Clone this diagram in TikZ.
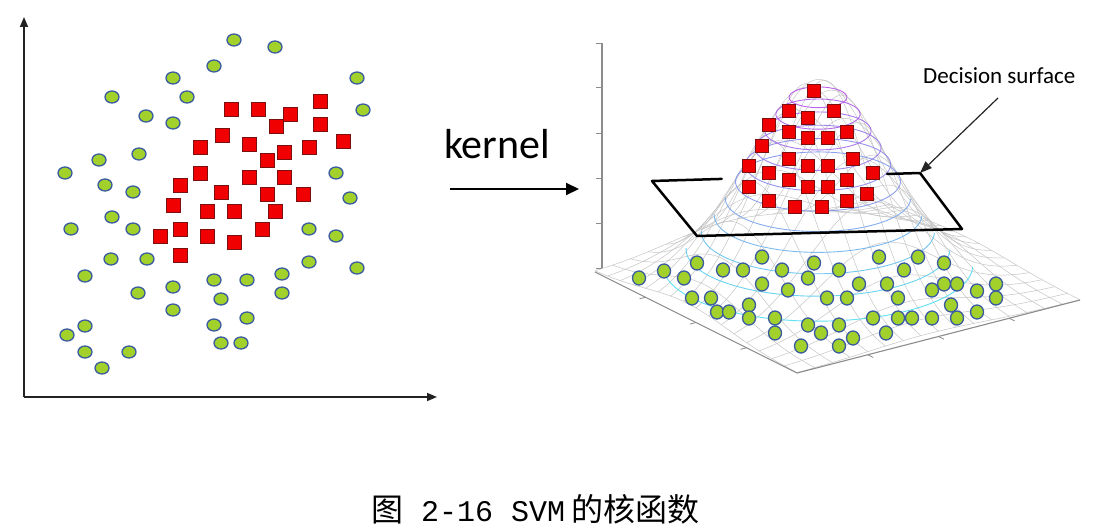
\documentclass[tikz,border=0pt]{standalone}
\usepackage{fontspec}
\newfontfamily\carlito{Carlito}
\newfontfamily\cjkfont{Noto Sans CJK SC}
\newfontfamily\monofont{Liberation Mono}
\usetikzlibrary{arrows.meta,shapes.geometric,calc}
\definecolor{dotgreen}{HTML}{A2D12B}
\definecolor{dotblue}{HTML}{3A5BA0}
\definecolor{sqred}{HTML}{F00000}
\definecolor{sqedge}{HTML}{7A1010}
\definecolor{meshgray}{HTML}{C6C6C6}
\definecolor{axgray}{HTML}{8C8C8C}
\definecolor{axdark}{HTML}{222222}
\definecolor{ringlo}{HTML}{4FDDF2}
\definecolor{ringhi}{HTML}{B850E8}
\begin{document}
\begin{tikzpicture}[x=1pt,y=-1pt,
  gdotL/.style={ellipse,draw=dotblue,line width=1.3pt,fill=dotgreen,minimum width=14pt,minimum height=12pt,inner sep=0pt},
  gdotR/.style={ellipse,draw=dotblue,line width=1.3pt,fill=dotgreen,minimum width=13pt,minimum height=14pt,inner sep=0pt},
  rsq/.style={rectangle,draw=sqedge,line width=0.6pt,fill=sqred,minimum size=13pt,inner sep=0pt},
  axisL/.style={draw=axdark,line width=1.5pt,-{Triangle[length=10pt,width=8pt]}},
  kernarrow/.style={draw=black,line width=2pt,-{Triangle[length=13pt,width=12pt]}},
  dsarrow/.style={draw=black!85,line width=1.2pt,-{Triangle[length=12pt,width=9pt]}},
  meshline/.style={draw=meshgray,line width=0.5pt},
  ringline/.style={line width=0.9pt,opacity=0.9},
  planeline/.style={draw=black,line width=2.5pt,line cap=round,line join=round},
  axR/.style={draw=axgray,line width=1.1pt},
  tickR/.style={draw=axgray,line width=0.8pt}
]
\useasboundingbox (0,0) rectangle (1107,532);
\fill[white] (0,0) rectangle (1107,532);

% ---------- left scatter plot ----------
\coordinate (O) at (24,397);
\coordinate (Ytop) at (24,17);
\coordinate (Xend) at (437,397);
\draw[axisL] (O) -- (Ytop);
\draw[axisL] (O) -- (Xend);

\foreach \px/\py [count=\n] in {234/40, 275/47, 214/66, 173/78, 357/78, 112/97, 187/97, 363/110, 146/116, 173/123, 139/154, 99/160, 65/173, 336/173, 105/185, 133/192, 350/198, 112/217, 71/229, 133/229, 309/229, 336/236, 111/259, 147/259, 309/262, 357/268, 85/276, 282/274, 214/280, 247/280, 173/287, 138/293, 282/293, 221/299, 173/310, 85/326, 214/325, 247/318, 67/335, 85/352, 129/352, 221/343, 241/343, 102/368}
  \node[gdotL] (gl\n) at (\px,\py) {};

\foreach \px/\py [count=\n] in {231/109, 258/109, 290/114, 320/101, 276/126, 320/124, 222/135, 200/147, 249/144, 284/152, 309/147, 343/141, 267/160, 200/173, 180/185, 249/177, 284/177, 221/192, 267/194, 303/194, 173/205, 207/211, 234/211, 275/211, 180/229, 262/229, 160/236, 207/236, 234/242, 180/255}
  \node[rsq,minimum size=14pt] (sl\n) at (\px,\py) {};

% ---------- kernel arrow ----------
\node[anchor=base west,inner sep=0pt] (kern) at (444,158) {\carlito\fontsize{42}{50}\selectfont kernel};
\coordinate (kA) at (450,189);
\coordinate (kB) at (579,189);
\draw[kernarrow] (kA) -- (kB);

% ---------- right 3D plot ----------
% mesh of the gaussian surface
\foreach \i in {0,...,16} {
  \draw[meshline] plot[domain=0:1,samples=41,smooth]
   ({797-202*\i/16+283*\x},
    {373-101*\i/16-73*\x-203*exp(-((\i/16-0.546)*(\i/16-0.546)+(\x-0.464)*(\x-0.464))/0.0824)});
  \draw[meshline] plot[domain=0:1,samples=41,smooth]
   ({797-202*\x+283*\i/16},
    {373-101*\x-73*\i/16-203*exp(-((\x-0.546)*(\x-0.546)+(\i/16-0.464)*(\i/16-0.464))/0.0824)});
}
% contour rings
\foreach \k in {0,...,10} {
  \pgfmathsetmacro\lev{0.09+0.083*\k}
  \pgfmathsetmacro\rad{0.287*sqrt(-ln(\lev))}
  \pgfmathsetmacro\cen{284-203*\lev}
  \pgfmathtruncatemacro\pc{10*\k}
  \draw[ringline,color=ringhi!\pc!ringlo] plot[domain=127:307,samples=40,smooth]
   ({818+\rad*(-202*cos(\x)+283*sin(\x))},{\cen+\rad*(-101*cos(\x)-73*sin(\x))});
  \ifnum\k>4
  \draw[ringline,color=ringhi!\pc!ringlo] plot[domain=-53:127,samples=40,smooth]
   ({818+\rad*(-202*cos(\x)+283*sin(\x))},{\cen+\rad*(-101*cos(\x)-73*sin(\x))});
  \fi
}
% axes of the 3D box
\coordinate (zTop) at (602,43);
\coordinate (zBot) at (602,268);
\coordinate (fL) at (595,272);
\coordinate (fF) at (797,373);
\coordinate (fR) at (1080,300);
\draw[axR] (zTop) -- (zBot);
\foreach \ty in {43,87,133,178,223,268} \draw[tickR] (602,\ty) -- ++(-6,0);
\draw[axR] (fL) -- (fF) -- (fR);
\foreach \f in {0.25,0.5,0.75} {
  \draw[tickR] ($(fL)!\f!(fF)$) -- ++(-6,1.6);
  \draw[tickR] ($(fF)!\f!(fR)$) -- ++(5.4,2.7);
}

% decision plane
\coordinate (P1) at (652,181);
\coordinate (P2) at (920,173);
\coordinate (P3) at (962,229);
\coordinate (P4) at (697,236);
\draw[planeline] (P2) -- (P3) -- (P4) -- (P1) -- ($(P1)!0.26!(P2)$);
\draw[planeline] ($(P1)!0.877!(P2)$) -- (P2);

% points on the surface
\foreach \px/\py [count=\n] in {814/91, 789/111, 834/111, 808/118, 769/125, 789/132, 847/132, 808/138, 828/138, 762/146, 789/159, 853/159, 749/166, 769/173, 808/166, 828/166, 873/173, 789/180, 847/180, 749/187, 808/187, 828/187, 867/194, 769/201, 847/201, 795/207, 822/207}
  \node[rsq] (sr\n) at (\px,\py) {};

\foreach \px/\py [count=\n] in {639/278, 664/271, 684/278, 697/263, 723/270, 743/270, 762/257, 782/270, 814/263, 808/278, 839/270, 879/257, 918/257, 904/270, 944/263, 762/284, 788/290, 859/284, 887/284, 932/290, 944/284, 957/284, 977/291, 996/284, 692/298, 711/298, 717/312, 729/312, 749/305, 749/318, 775/318, 775/333, 808/325, 821/333, 839/325, 827/298, 847/298, 898/298, 951/305, 996/298, 873/318, 898/318, 912/318, 932/318, 957/318, 977/312, 886/333, 801/346, 839/346, 853/338}
  \node[gdotR] (gr\n) at (\px,\py) {};

% decision surface label
\node[anchor=base west,inner sep=0pt] (ds) at (923,84) {\carlito\fontsize{23}{27}\selectfont Decision surface};
\coordinate (dsA) at (998,98);
\draw[dsarrow] (dsA) -- (P2);

% ---------- caption ----------
\node[anchor=base west,inner sep=0pt] (cap) at (371,521)
  {{\cjkfont\fontsize{32}{36}\selectfont 图}{\monofont\fontsize{30}{34}\selectfont\ 2-16 SVM}\hspace{6pt}{\cjkfont\fontsize{32}{36}\selectfont 的核函数}};
\end{tikzpicture}
\end{document}
